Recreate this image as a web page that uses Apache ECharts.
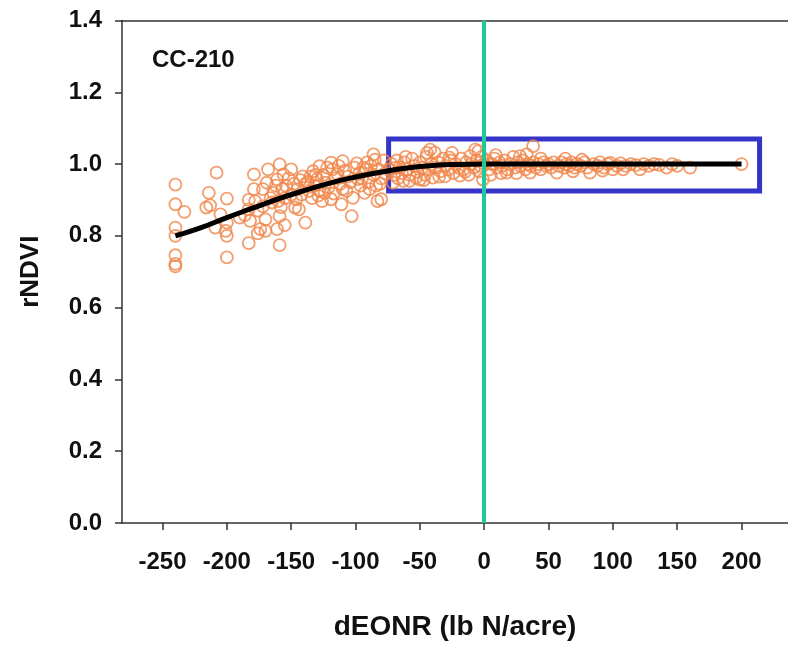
<!DOCTYPE html>
<html>
<head>
<meta charset="utf-8">
<script src="https://cdn.jsdelivr.net/npm/echarts@6/dist/echarts.min.js"></script>
<style>html,body{margin:0;padding:0;background:#fff;}#chart{width:788px;height:646px;}</style>
</head>
<body>
<div id="chart"></div>
<script>
// Observed points: dEONR (lb N/acre) and rNDVI
var dEONR = [
 -240,-240,-233,-240,-240,-240,-240,-240,
 -208,-214,-216,-213,-200,-209,-200,-200,-201,-200,-205,
 -190,-183,-182,-179,-179,-178,-174,-170,-176,-170,-168,-183,-183,-172,-169,-186,-176,-166,-172,
 -159,-161,-156,-159,-159,-161,-155,-154,-164,-160,-165,-144,-141,-146,-147,-152,-150,-148,-157,-162,-145,-143,-150,-155,-142,-158,
 -139,-133,-128,-119,-110,-126,-119,-111,-102,-103,-137,-135,-132,-130,-128,-125,-123,-121,-118,-116,-114,-112,-110,-108,-106,-104,-101,-136,-129,-124,-117,-113,-107,-122,-131,-139,-134,
 -99,-86,-93,-83,-80,-97,-95,-92,-90,-88,-86,-84,-82,-80,-78,-77,-96,-91,-89,-85,-98,-94,-81,
 -71,-63,-58,-50,-42,-38.5,-44.5,-40,-74,-72,-70,-68,-66,-64,-62,-60,-58,-56,-54,-52,-50,-48,-46,-45,-43,-41,-67,-53,-61,-69,-47,
 -30.5,-25,-7,-4.6,-1,-38,-36,-34,-32,-30,-28,-26,-24,-22,-20,-18,-16,-14,-12,-10,-8,-6,-4,-2,0,-35,-19,-11,-27,-15,-3,
 17.5,35.6,38,33,27.8,22.6,2,4,6,8,10,12,14,16,18,20,24,26,28,30,32,34,36,38,40,42,44,46,48,50,9,13,25,44,5,
 56.4,82.2,100,121,141.8,160,200,52,54,58,60,62,64,66,68,70,72,75,78,80,85,88,90,93,96,98,103,106,110,114,118,124,128,132,136,146,150,69,92,76,108,63
];
var rNDVI = [
 0.943,0.888,0.867,0.823,0.800,0.746,0.722,0.715,
 0.976,0.920,0.879,0.885,0.904,0.823,0.837,0.800,0.814,0.740,0.860,
 0.851,0.780,0.842,0.971,0.930,0.897,0.819,0.814,0.807,0.846,0.985,0.874,0.900,0.930,0.948,0.858,0.870,0.905,0.882,
 0.999,0.957,0.971,0.855,0.774,0.819,0.830,0.939,0.920,0.897,0.893,0.874,0.966,0.902,0.879,0.960,0.915,0.945,0.930,0.940,0.930,0.955,0.985,0.905,0.915,0.880,
 0.837,0.980,0.994,1.004,1.008,0.897,0.902,0.888,0.906,0.855,0.950,0.965,0.940,0.958,0.925,0.970,0.948,0.935,0.985,0.960,0.972,0.945,0.930,0.982,0.965,0.950,0.990,0.925,0.912,0.920,0.918,0.995,0.925,0.990,0.970,0.945,0.905,
 1.002,1.027,0.920,0.897,0.902,0.975,0.960,0.985,0.950,0.995,0.970,0.940,0.985,0.960,1.010,0.975,0.940,1.005,0.930,1.012,0.958,0.990,0.945,
 0.948,0.953,0.953,0.957,1.040,1.032,1.031,0.962,0.985,1.000,0.970,1.010,0.990,0.975,1.005,0.985,0.970,1.015,0.995,0.978,1.005,0.990,0.970,1.020,0.985,1.000,0.960,0.962,1.020,0.990,0.955,
 0.966,1.031,1.040,1.036,0.957,0.990,1.005,0.980,1.015,0.995,0.985,1.010,0.975,1.000,0.990,1.015,0.985,1.005,0.970,1.000,0.990,1.010,0.980,1.020,1.000,0.965,0.968,1.022,1.018,0.978,0.995,
 0.976,0.976,1.050,1.027,1.022,1.020,1.010,0.985,1.000,1.015,0.990,1.005,0.995,1.010,0.985,1.000,0.990,1.005,0.995,1.010,0.985,1.000,0.995,1.005,0.990,1.000,0.985,1.005,0.995,1.000,1.025,0.975,0.975,1.015,0.970,
 0.976,0.976,0.985,0.985,0.990,0.990,1.000,0.990,1.005,0.995,1.005,0.990,1.000,0.995,1.005,0.990,1.000,0.995,1.005,0.990,1.000,0.995,1.005,0.990,1.000,1.003,0.995,1.002,0.995,1.000,0.997,1.000,0.995,1.000,0.998,1.000,0.995,0.980,0.982,1.012,0.985,1.015
];
// Fitted response curve
var fitX = [-240,-220,-200,-180,-160,-140,-120,-100,-80,-60,-40,-20,0,50,100,150,200];
var fitY = [0.800,0.823,0.851,0.877,0.903,0.926,0.947,0.964,0.978,0.989,0.996,0.999,1.000,1.000,1.000,1.000,1.000];
var xTicks = [-250,-200,-150,-100,-50,0,50,100,150,200];
var yTicks = [0,0.2,0.4,0.6,0.8,1.0,1.2,1.4];
var panelLabel = 'CC-210';
var xTitle = 'dEONR (lb N/acre)';
var yTitle = 'rNDVI';
var eonrLine = 0;
var boxCorners = [[-74.3, 1.070], [214, 0.925]];

var FONT = '"Liberation Sans", Arial, Helvetica, sans-serif';
var pts = dEONR.map(function (x, i) { return [x, rNDVI[i]]; });
var fit = fitX.map(function (x, i) { return [x, fitY[i]]; });

var chart = echarts.init(document.getElementById('chart'), null, {renderer: 'canvas'});
chart.setOption({
  animation: false,
  backgroundColor: '#ffffff',
  grid: {left: 122, right: 0, top: 20.5, bottom: 121, containLabel: false},
  graphic: [{
    type: 'text', left: 152, top: 48, z: 10,
    style: {text: panelLabel, font: 'bold 24px ' + FONT, fill: '#111'}
  }],
  xAxis: [{
    type: 'value', min: -281.5, max: 236.1,
    axisLine: {show: true, onZero: false, lineStyle: {color: '#333', width: 1.5}},
    splitLine: {show: false},
    axisTick: {show: true, customValues: xTicks, length: 7, inside: false, lineStyle: {color: '#333', width: 1.5}},
    axisLabel: {customValues: xTicks, margin: 27, fontSize: 24, fontWeight: 'bold', fontFamily: FONT, color: '#111'},
    name: xTitle, nameLocation: 'middle', nameGap: 90,
    nameTextStyle: {fontSize: 28, fontWeight: 'bold', fontFamily: FONT, color: '#111'}
  }, {
    type: 'value', position: 'top', min: -281.5, max: 236.1,
    axisLine: {show: true, onZero: false, lineStyle: {color: '#333', width: 1.5}},
    axisTick: {show: false}, axisLabel: {show: false}, splitLine: {show: false}
  }],
  yAxis: {
    type: 'value', min: 0, max: 1.4, interval: 0.2, position: 'left',
    axisLine: {show: true, onZero: false, lineStyle: {color: '#333', width: 1.5}},
    splitLine: {show: false},
    axisTick: {show: true, length: 7, inside: false, lineStyle: {color: '#333', width: 1.5}},
    axisLabel: {margin: 20, fontSize: 24, fontWeight: 'bold', fontFamily: FONT, color: '#111',
      formatter: function (v) { return v.toFixed(1); }},
    name: yTitle, nameLocation: 'middle', nameGap: 78, nameRotate: 90,
    nameTextStyle: {fontSize: 26, fontWeight: 'bold', fontFamily: FONT, color: '#111'}
  },
  series: [{
    type: 'scatter', z: 2, data: pts, symbol: 'circle', symbolSize: 12,
    itemStyle: {color: 'rgba(0,0,0,0)', borderColor: '#f0864a', borderWidth: 1.8},
    emphasis: {disabled: true}, silent: true
  }, {
    type: 'line', z: 3, data: fit, smooth: true, symbol: 'none',
    lineStyle: {color: '#000', width: 5}, silent: true
  }, {
    type: 'line', z: 4, data: [], silent: true,
    markArea: {silent: true,
      itemStyle: {color: 'rgba(0,0,0,0)', borderColor: '#3434c8', borderWidth: 5},
      data: [[{coord: boxCorners[0]}, {coord: boxCorners[1]}]]}
  }, {
    type: 'line', z: 5, data: [], silent: true,
    markLine: {silent: true, symbol: ['none', 'none'], label: {show: false},
      lineStyle: {color: '#1fc99a', width: 4, type: 'solid'},
      data: [{xAxis: eonrLine}]}
  }]
});
</script>
</body>
</html>
